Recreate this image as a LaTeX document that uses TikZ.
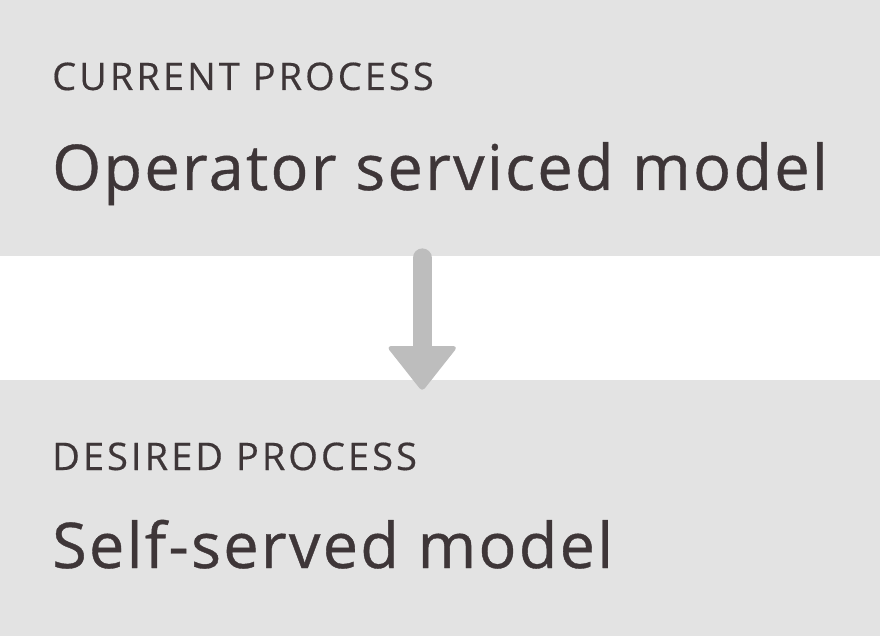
\documentclass[tikz,border=0pt]{standalone}
\usepackage{fontspec}
\setmainfont{Open Sans}
\usetikzlibrary{positioning}
\definecolor{boxgray}{HTML}{E3E3E3}
\definecolor{inkdark}{HTML}{3E3638}
\definecolor{arrowgray}{HTML}{BDBDBD}

\begin{document}
\begin{tikzpicture}[x=1pt,y=-1pt]
	% formatos
	\tikzstyle{panel}=[fill=boxgray, draw=none, minimum width=880pt, minimum height=256pt, inner sep=0, anchor=north west]
	\tikzstyle{kicker}=[text=inkdark, inner sep=0, anchor=base west, font=\fontsize{38}{40}\selectfont\addfontfeature{LetterSpace=8,FakeBold=0.4}]
	\tikzstyle{title}=[text=inkdark, inner sep=0, anchor=base west, font=\fontsize{63}{66}\selectfont\addfontfeature{LetterSpace=3.6,FakeBold=0.6}]
	\tikzstyle{shaft}=[draw=arrowgray, line width=19pt, line cap=round]
	\tikzstyle{head}=[fill=arrowgray, draw=arrowgray, line width=2pt, line join=round, rounded corners=3pt]
	\useasboundingbox (0,0) rectangle (880,636);
	% paneles
	\node [panel] (cur) at (0,0) {};
	\node [panel] (des) at (0,380) {};
	% textos
	\node [kicker] (curlabel) at (52,90) {CURRENT PROCESS};
	\node [title] (curtitle) at (52,190) {Operator serviced model};
	\node [kicker] (deslabel) at (52,470) {DESIRED PROCESS};
	\node [title] (destitle) at (52,568) {Self-served model};
	% flecha
	\coordinate (start) at ([xshift=-18pt,yshift=-1.5pt]cur.south);
	\coordinate (tip) at ([xshift=-18pt,yshift=-10pt]des.north);
	\draw [shaft] (start) -- ([yshift=38pt]tip);
	\filldraw [head] (tip) -- ([xshift=-34pt,yshift=43pt]tip) -- ([xshift=34pt,yshift=43pt]tip) -- cycle;
\end{tikzpicture}
\end{document}
